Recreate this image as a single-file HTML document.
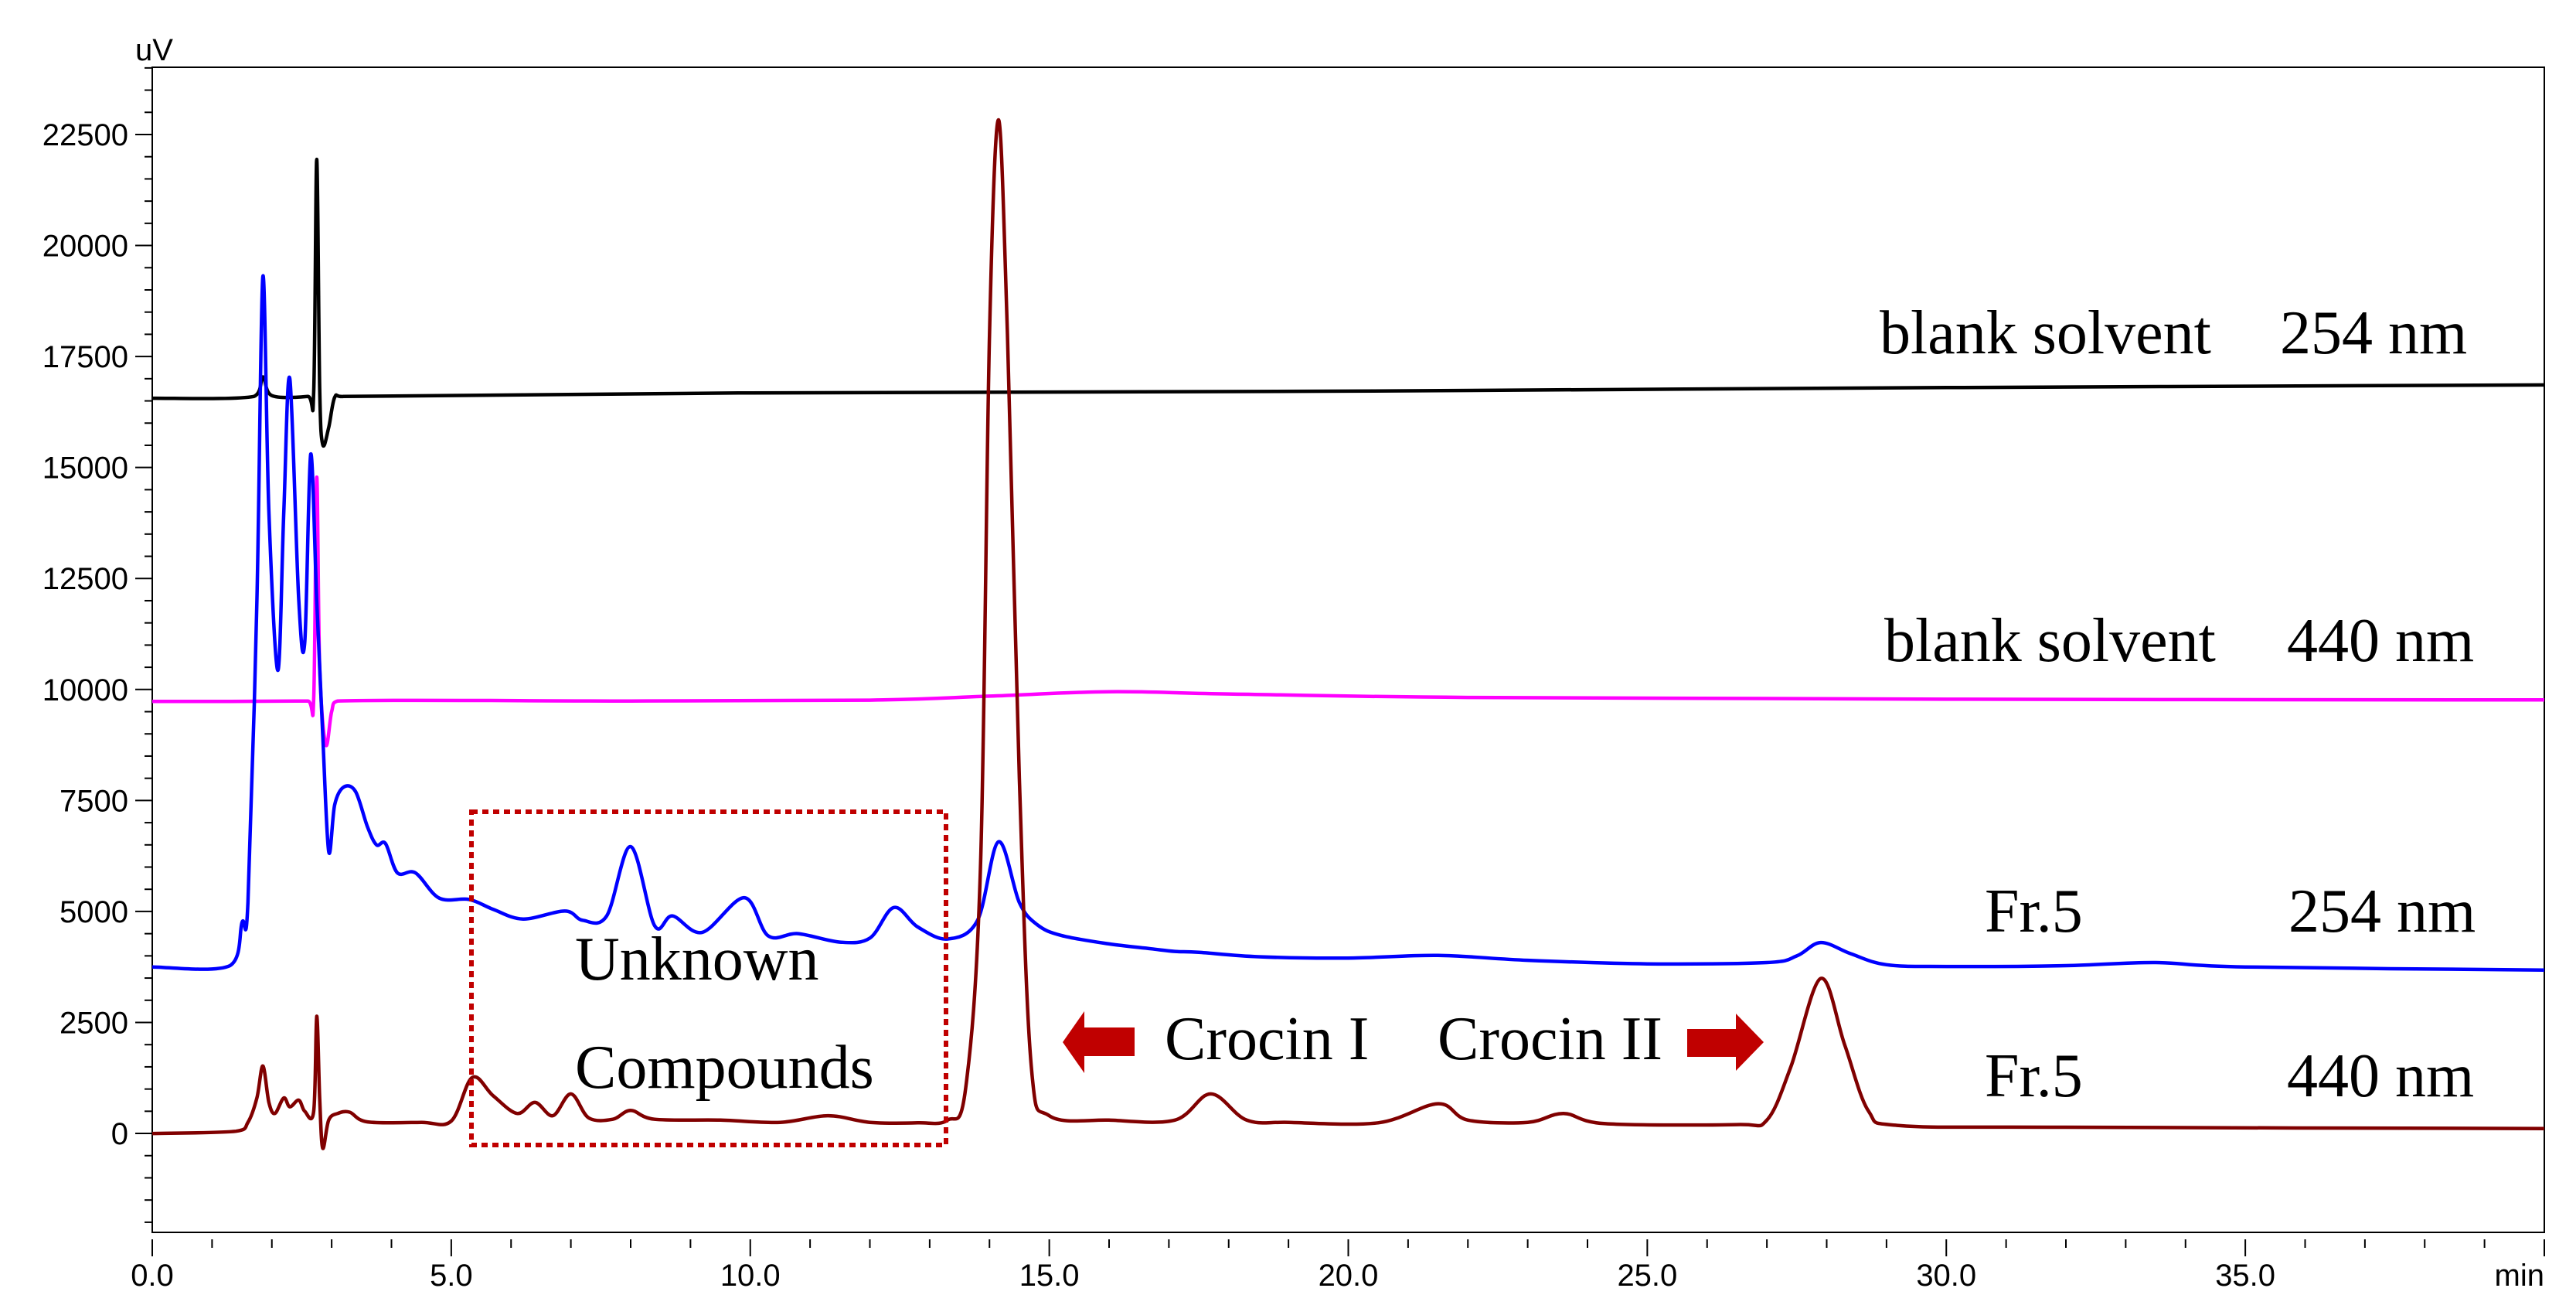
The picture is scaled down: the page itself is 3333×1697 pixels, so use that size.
<!DOCTYPE html>
<html><head><meta charset="utf-8"><style>
html,body{margin:0;padding:0;background:#fff;width:3333px;height:1697px;overflow:hidden;position:relative}
svg{display:block}
.ax{font-family:"Liberation Sans",Arial,sans-serif;font-size:40px;fill:#000}
.ann{font-family:"Liberation Serif","Times New Roman",serif;font-size:80px;fill:#000}
</style></head><body>
<svg id="chart" width="3333" height="1697" viewBox="0 0 3333 1697" xmlns="http://www.w3.org/2000/svg">
<g id="axes"></g>
<g id="traces"></g>
</svg>
<script>
// ---- data ----
const xTicks = [0,5,10,15,20,25,30,35];
const xTickLabels = ["0.0","5.0","10.0","15.0","20.0","25.0","30.0","35.0"];
const yTicks = [0,2500,5000,7500,10000,12500,15000,17500,20000,22500];
const yTickLabels = ["0","2500","5000","7500","10000","12500","15000","17500","20000","22500"];

const blank254T = [0,1.7,1.85,2.0,2.6,2.7,2.75,2.8,2.85,2.95,3.05,3.2,10,20,30,40];
const blank254V = [16560,16600,17040,16620,16600,16700,21940,16800,15520,15900,16580,16600,16680,16720,16800,16860];

const blank440T = [0,2.6,2.7,2.75,2.8,2.9,3.0,3.1,8,12,14,16,18,22,30,40];
const blank440V = [9730,9740,9800,14780,10500,8760,9500,9740,9740,9760,9850,9950,9900,9820,9780,9765];

const fr254T = [0,1.3,1.5,1.6,1.75,1.85,1.95,2.1,2.2,2.3,2.45,2.55,2.65,2.75,2.85,2.95,3.05,3.2,3.4,3.6,3.75,3.9,4.1,4.4,4.8,5.3,5.7,6.2,6.9,7.2,7.6,8.0,8.4,8.7,9.2,9.9,10.3,10.8,11.5,12.0,12.4,12.8,13.3,13.8,14.15,14.5,14.8,15.2,16.0,16.7,17.1,17.5,18.5,20,21.5,23,25,27.0,27.5,27.9,28.4,29,30,32,33.5,35,40];
const fr254V = [3750,3780,4750,5200,12000,19300,14000,10430,14000,17000,12000,11060,15300,12000,9000,6350,7400,7800,7700,6900,6500,6530,5870,5870,5300,5270,5050,4830,5010,4800,4900,6460,4680,4900,4530,5310,4450,4500,4310,4400,5090,4650,4380,4800,6570,5200,4700,4460,4270,4160,4100,4080,3980,3950,4010,3900,3820,3850,4000,4300,4050,3800,3760,3780,3850,3750,3680];

const fr440T = [0,1.4,1.6,1.75,1.85,1.95,2.05,2.2,2.3,2.45,2.55,2.7,2.75,2.8,2.85,2.95,3.1,3.3,3.6,4.5,5.0,5.35,5.7,6.1,6.4,6.7,7.0,7.3,7.7,8.0,8.4,9.5,10.5,11.3,12.0,12.8,13.3,13.6,13.85,14.0,14.15,14.3,14.5,14.7,15.0,16,17.1,17.7,18.3,19,20.5,21.5,22,23,23.6,24.3,26.5,27.0,27.4,27.9,28.3,28.7,29.2,32,40];
const fr440V = [0,50,250,800,1520,700,450,800,600,750,500,500,2640,800,-330,300,450,480,260,250,280,1260,850,450,700,400,890,350,320,520,320,300,250,400,250,240,300,1000,6000,18000,22830,18000,8000,1500,400,300,300,890,300,250,240,670,300,250,450,220,200,300,1500,3490,2000,500,180,140,110];

// ---- scales ----
const X0=197, X1=3292, Y0=1594, Y1=87;
const VMIN=-2228, VMAX=24015;
function sx(t){return X0+(t-0)/(40-0)*(X1-X0);}
function sy(v){return Y0-(v-VMIN)/(VMAX-VMIN)*(Y0-Y1);}
const NS="http://www.w3.org/2000/svg";
function mk(tag,parent){const e=document.createElementNS(NS,tag);parent.appendChild(e);return e;}

const axes=document.getElementById('axes');
const frame=mk('rect',axes);
frame.setAttribute('x',X0);frame.setAttribute('y',Y1);frame.setAttribute('width',X1-X0);frame.setAttribute('height',Y0-Y1);
frame.setAttribute('fill','none');frame.setAttribute('stroke','#000');frame.setAttribute('stroke-width','2');



for(let v=-2000; v<=24000; v+=500){
  const y=sy(v); if(y<Y1||y>Y0) continue;
  const major=(v%2500===0)&&v>=0;
  const l=mk('line',axes);
  l.setAttribute('x1',major?175:187);l.setAttribute('x2',X0);l.setAttribute('y1',y);l.setAttribute('y2',y);
  l.setAttribute('stroke','#000');l.setAttribute('stroke-width','2');
  
  
}
yTicks.forEach((v,i)=>{
  const t=mk('text',axes);t.setAttribute('class','ax');t.setAttribute('x',166);t.setAttribute('y',sy(v)+14);
  t.setAttribute('text-anchor','end');t.textContent=yTickLabels[i];
  
  
});
for(let m=0;m<=40;m++){
  const major=m%5===0;
  const l=mk('line',axes);
  l.setAttribute('x1',sx(m));l.setAttribute('x2',sx(m));l.setAttribute('y1',1603);l.setAttribute('y2',major?1625:1614);
  l.setAttribute('stroke','#000');l.setAttribute('stroke-width','2');
  
  
}
xTicks.forEach((m,i)=>{
  const t=mk('text',axes);t.setAttribute('class','ax');t.setAttribute('x',sx(m));t.setAttribute('y',1663);
  t.setAttribute('text-anchor','middle');t.textContent=xTickLabels[i];
  
  
});
const uv=mk('text',axes);uv.setAttribute('class','ax');uv.setAttribute('x',175);uv.setAttribute('y',78);uv.textContent='uV';


const mn=mk('text',axes);mn.setAttribute('class','ax');mn.setAttribute('x',3292);mn.setAttribute('y',1663);mn.setAttribute('text-anchor','end');mn.textContent='min';



function pathFrom(T,V){
  const p=T.map((t,i)=>[sx(t),sy(V[i])]);
  let d='M'+p[0][0].toFixed(1)+','+p[0][1].toFixed(1);
  for(let i=0;i<p.length-1;i++){
    const a=p[Math.max(0,i-1)],b=p[i],c=p[i+1],e=p[Math.min(p.length-1,i+2)];
    const k=0.5/3;
    let c1x=b[0]+(c[0]-a[0])*k, c1y=b[1]+(c[1]-a[1])*k;
    let c2x=c[0]-(e[0]-b[0])*k, c2y=c[1]-(e[1]-b[1])*k;
    c1x=Math.min(Math.max(c1x,b[0]),c[0]); c2x=Math.min(Math.max(c2x,b[0]),c[0]);
    d+=' C'+c1x.toFixed(1)+','+c1y.toFixed(1)+' '+c2x.toFixed(1)+','+c2y.toFixed(1)+' '+c[0].toFixed(1)+','+c[1].toFixed(1);
  }
  return d;
}
const tr=document.getElementById('traces');
function addTrace(T,V,color,name){
  const p=mk('path',tr);p.setAttribute('d',pathFrom(T,V));p.setAttribute('fill','none');
  p.setAttribute('stroke',color);p.setAttribute('stroke-width','4.5');p.setAttribute('stroke-linejoin','round');
  
  
}
addTrace(blank254T,blank254V,'#000000','blank-254nm-trace');
addTrace(blank440T,blank440V,'#ff00ff','blank-440nm-trace');
addTrace(fr254T,fr254V,'#0000ff','fr5-254nm-trace');
addTrace(fr440T,fr440V,'#800000','fr5-440nm-trace');
</script>
<svg style="position:absolute;left:0;top:0" width="3333" height="1697">
<rect x="610" y="1050" width="614" height="431" fill="none" stroke="#c00000" stroke-width="6" stroke-dasharray="8,6"/>
<text class="ann" x="2432" y="457">blank solvent</text>
<text class="ann" x="2950" y="457">254 nm</text>
<text class="ann" x="2438" y="855">blank solvent</text>
<text class="ann" x="2959" y="855">440 nm</text>
<text class="ann" x="2568" y="1205">Fr.5</text>
<text class="ann" x="2961" y="1205">254 nm</text>
<text class="ann" x="2568" y="1418">Fr.5</text>
<text class="ann" x="2959" y="1418">440 nm</text>
<text class="ann" x="744" y="1267">Unknown</text>
<text class="ann" x="744" y="1407">Compounds</text>
<text class="ann" x="1507" y="1370">Crocin I</text>
<text class="ann" x="1860" y="1370">Crocin II</text>
<polygon points="1375,1348 1403,1308 1403,1329 1468,1329 1468,1366 1403,1366 1403,1388" fill="#c00000"/>
<polygon points="2282,1348 2246,1311 2246,1331 2183,1331 2183,1367 2246,1367 2246,1385" fill="#c00000"/>
</svg>
</body></html>
